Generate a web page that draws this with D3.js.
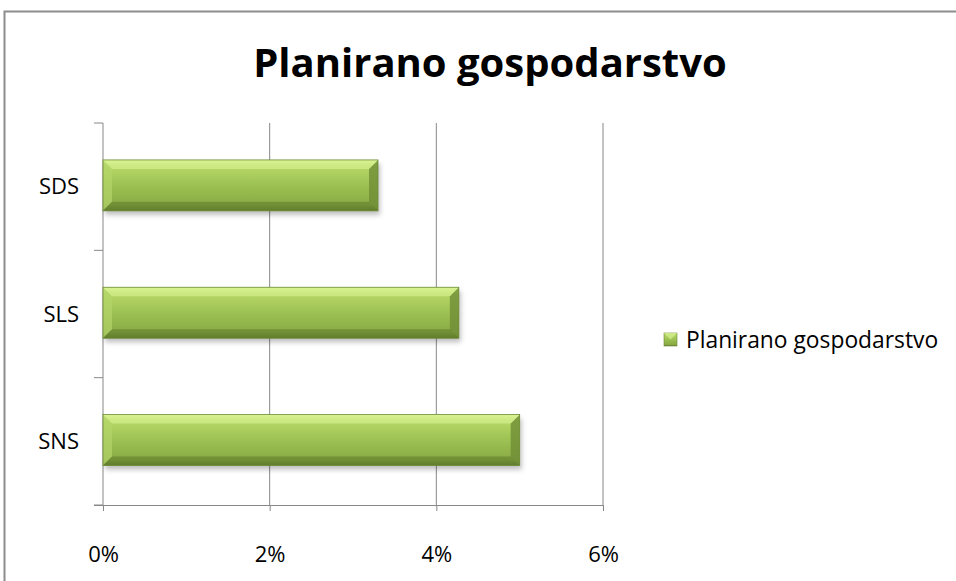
<!DOCTYPE html>
<html>
<head>
<meta charset="utf-8">
<script src="https://d3js.org/d3.v7.min.js"></script>
<style>
    body { margin: 0; background: #fff; }
    text { font-family: "Open Sans", "Noto Sans", sans-serif; fill: #000; }
    .axis path, .axis line { stroke: #888; }
</style>
</head>
<body>
<script>
    // data
    let categories = ["SDS", "SLS", "SNS"];
    let values = [0.033, 0.0427, 0.05];
    let xTicks = [0, 0.02, 0.04, 0.06];
    let seriesName = "Planirano gospodarstvo";
    let title = "Planirano gospodarstvo";

    let W = 956, H = 581;
    let plotLeft = 103, plotRight = 603, plotTop = 123, plotBottom = 505;

    let svg = d3.select("body").append("svg")
        .attr("width", W)
        .attr("height", H);

    let defs = svg.append("defs");
    let grad = defs.append("linearGradient")
        .attr("id", "barGrad")
        .attr("x1", 0).attr("y1", 0).attr("x2", 0).attr("y2", 1);
    grad.append("stop").attr("offset", "0%").attr("stop-color", "#d5f08a");
    grad.append("stop").attr("offset", "12%").attr("stop-color", "#b7d867");
    grad.append("stop").attr("offset", "50%").attr("stop-color", "#9dc153");
    grad.append("stop").attr("offset", "88%").attr("stop-color", "#8aab45");
    grad.append("stop").attr("offset", "100%").attr("stop-color", "#657f30");

    let shadow = defs.append("filter").attr("id", "shadow")
        .attr("x", "-5%").attr("y", "-20%").attr("width", "115%").attr("height", "160%");
    shadow.append("feDropShadow")
        .attr("dx", 2).attr("dy", 4).attr("stdDeviation", 2.5)
        .attr("flood-color", "#000").attr("flood-opacity", 0.25);

    // frame
    svg.append("rect")
        .attr("x", 4.5).attr("y", 11.5)
        .attr("width", W + 20).attr("height", H + 20)
        .attr("fill", "none").attr("stroke", "#8c8c8c").attr("stroke-width", 2);

    svg.append("text")
        .attr("x", 490).attr("y", 77)
        .attr("text-anchor", "middle")
        .style("font-size", "40px")
        .style("font-weight", "bold")
        .text(title);

    let x = d3.scaleLinear().domain([0, 0.06]).range([plotLeft, plotRight]);
    let y = d3.scaleBand().domain(categories).range([plotTop, plotBottom]);

    // gridlines
    svg.append("g")
        .selectAll("line")
        .data(xTicks.slice(1))
        .join("line")
        .attr("x1", d => x(d)).attr("x2", d => x(d))
        .attr("y1", plotTop).attr("y2", plotBottom)
        .attr("stroke", "#888").attr("stroke-width", 1);

    let xAxis = d3.axisBottom(x).tickValues(xTicks)
        .tickFormat(d3.format(".0%")).tickSize(6).tickSizeOuter(0);
    let gx = svg.append("g")
        .attr("class", "axis")
        .attr("transform", "translate(0," + plotBottom + ")")
        .call(xAxis);
    gx.selectAll("text").style("font-size", "22px").attr("y", 49).attr("dy", "0.35em");
    gx.select(".domain").attr("d", "M" + (plotLeft - 9) + ",0.5H" + plotRight);

    // y axis, ticks on band edges
    let yEdges = categories.map(c => y(c)).concat([plotBottom]);
    let gy = svg.append("g").attr("class", "axis");
    gy.append("line")
        .attr("x1", plotLeft).attr("x2", plotLeft)
        .attr("y1", plotTop).attr("y2", plotBottom);
    gy.selectAll(".edge")
        .data(yEdges)
        .join("line")
        .attr("class", "edge")
        .attr("x1", plotLeft - 9).attr("x2", plotLeft)
        .attr("y1", d => d).attr("y2", d => d);
    gy.selectAll("text")
        .data(categories)
        .join("text")
        .attr("x", 79)
        .attr("y", d => y(d) + y.bandwidth() / 2)
        .attr("dy", "0.35em")
        .attr("text-anchor", "end")
        .style("font-size", "22px")
        .text(d => d);

    // bars
    let bh = y.bandwidth() * 0.4;
    let bars = svg.append("g")
        .selectAll("g")
        .data(categories.map((c, i) => ({cat: c, val: values[i]})))
        .join("g")
        .attr("transform", d => "translate(" + x(0) + "," + (y(d.cat) + y.bandwidth() * 0.29) + ")");

    bars.append("rect")
        .attr("width", d => x(d.val) - x(0))
        .attr("height", bh)
        .attr("fill", "url(#barGrad)")
        .attr("filter", "url(#shadow)");

    // bevel edges
    let bev = 9;
    bars.append("path")
        .attr("d", d => "M0,0L" + bev + "," + bev + "V" + (bh - bev) + "L0," + bh + "Z")
        .attr("fill", "#b3d46a").attr("opacity", 0.7);
    bars.append("path")
        .attr("d", d => {
            let w = x(d.val) - x(0);
            return "M" + w + ",0L" + (w - bev) + "," + bev + "V" + (bh - bev) + "L" + w + "," + bh + "Z";
        })
        .attr("fill", "#6f8d36").attr("opacity", 0.8);
    bars.append("path")
        .attr("d", d => {
            let w = x(d.val) - x(0);
            return "M0,0H" + w + "L" + (w - bev) + "," + bev + "H" + bev + "Z";
        })
        .attr("fill", "#dcf599").attr("opacity", 0.55);
    bars.append("path")
        .attr("d", d => {
            let w = x(d.val) - x(0);
            return "M0," + bh + "H" + w + "L" + (w - bev) + "," + (bh - bev) + "H" + bev + "Z";
        })
        .attr("fill", "#5d7a2a").attr("opacity", 0.55);
    bars.append("rect")
        .attr("width", d => x(d.val) - x(0))
        .attr("height", bh)
        .attr("fill", "none")
        .attr("stroke", "#6d8a35").attr("stroke-width", 0.8);

    // legend
    let lg = svg.append("g").attr("transform", "translate(664,333)");
    lg.append("rect").attr("width", 13).attr("height", 13)
        .attr("fill", "url(#barGrad)").attr("stroke", "#6d8a35").attr("stroke-width", 0.6);
    lg.append("path").attr("d", "M0,0H13L6.5,6.5Z").attr("fill", "#dcf599").attr("opacity", 0.6);
    lg.append("text")
        .attr("x", 22).attr("y", 7).attr("dy", "0.35em")
        .style("font-size", "22.8px")
        .text(seriesName);
</script>
</body>
</html>
